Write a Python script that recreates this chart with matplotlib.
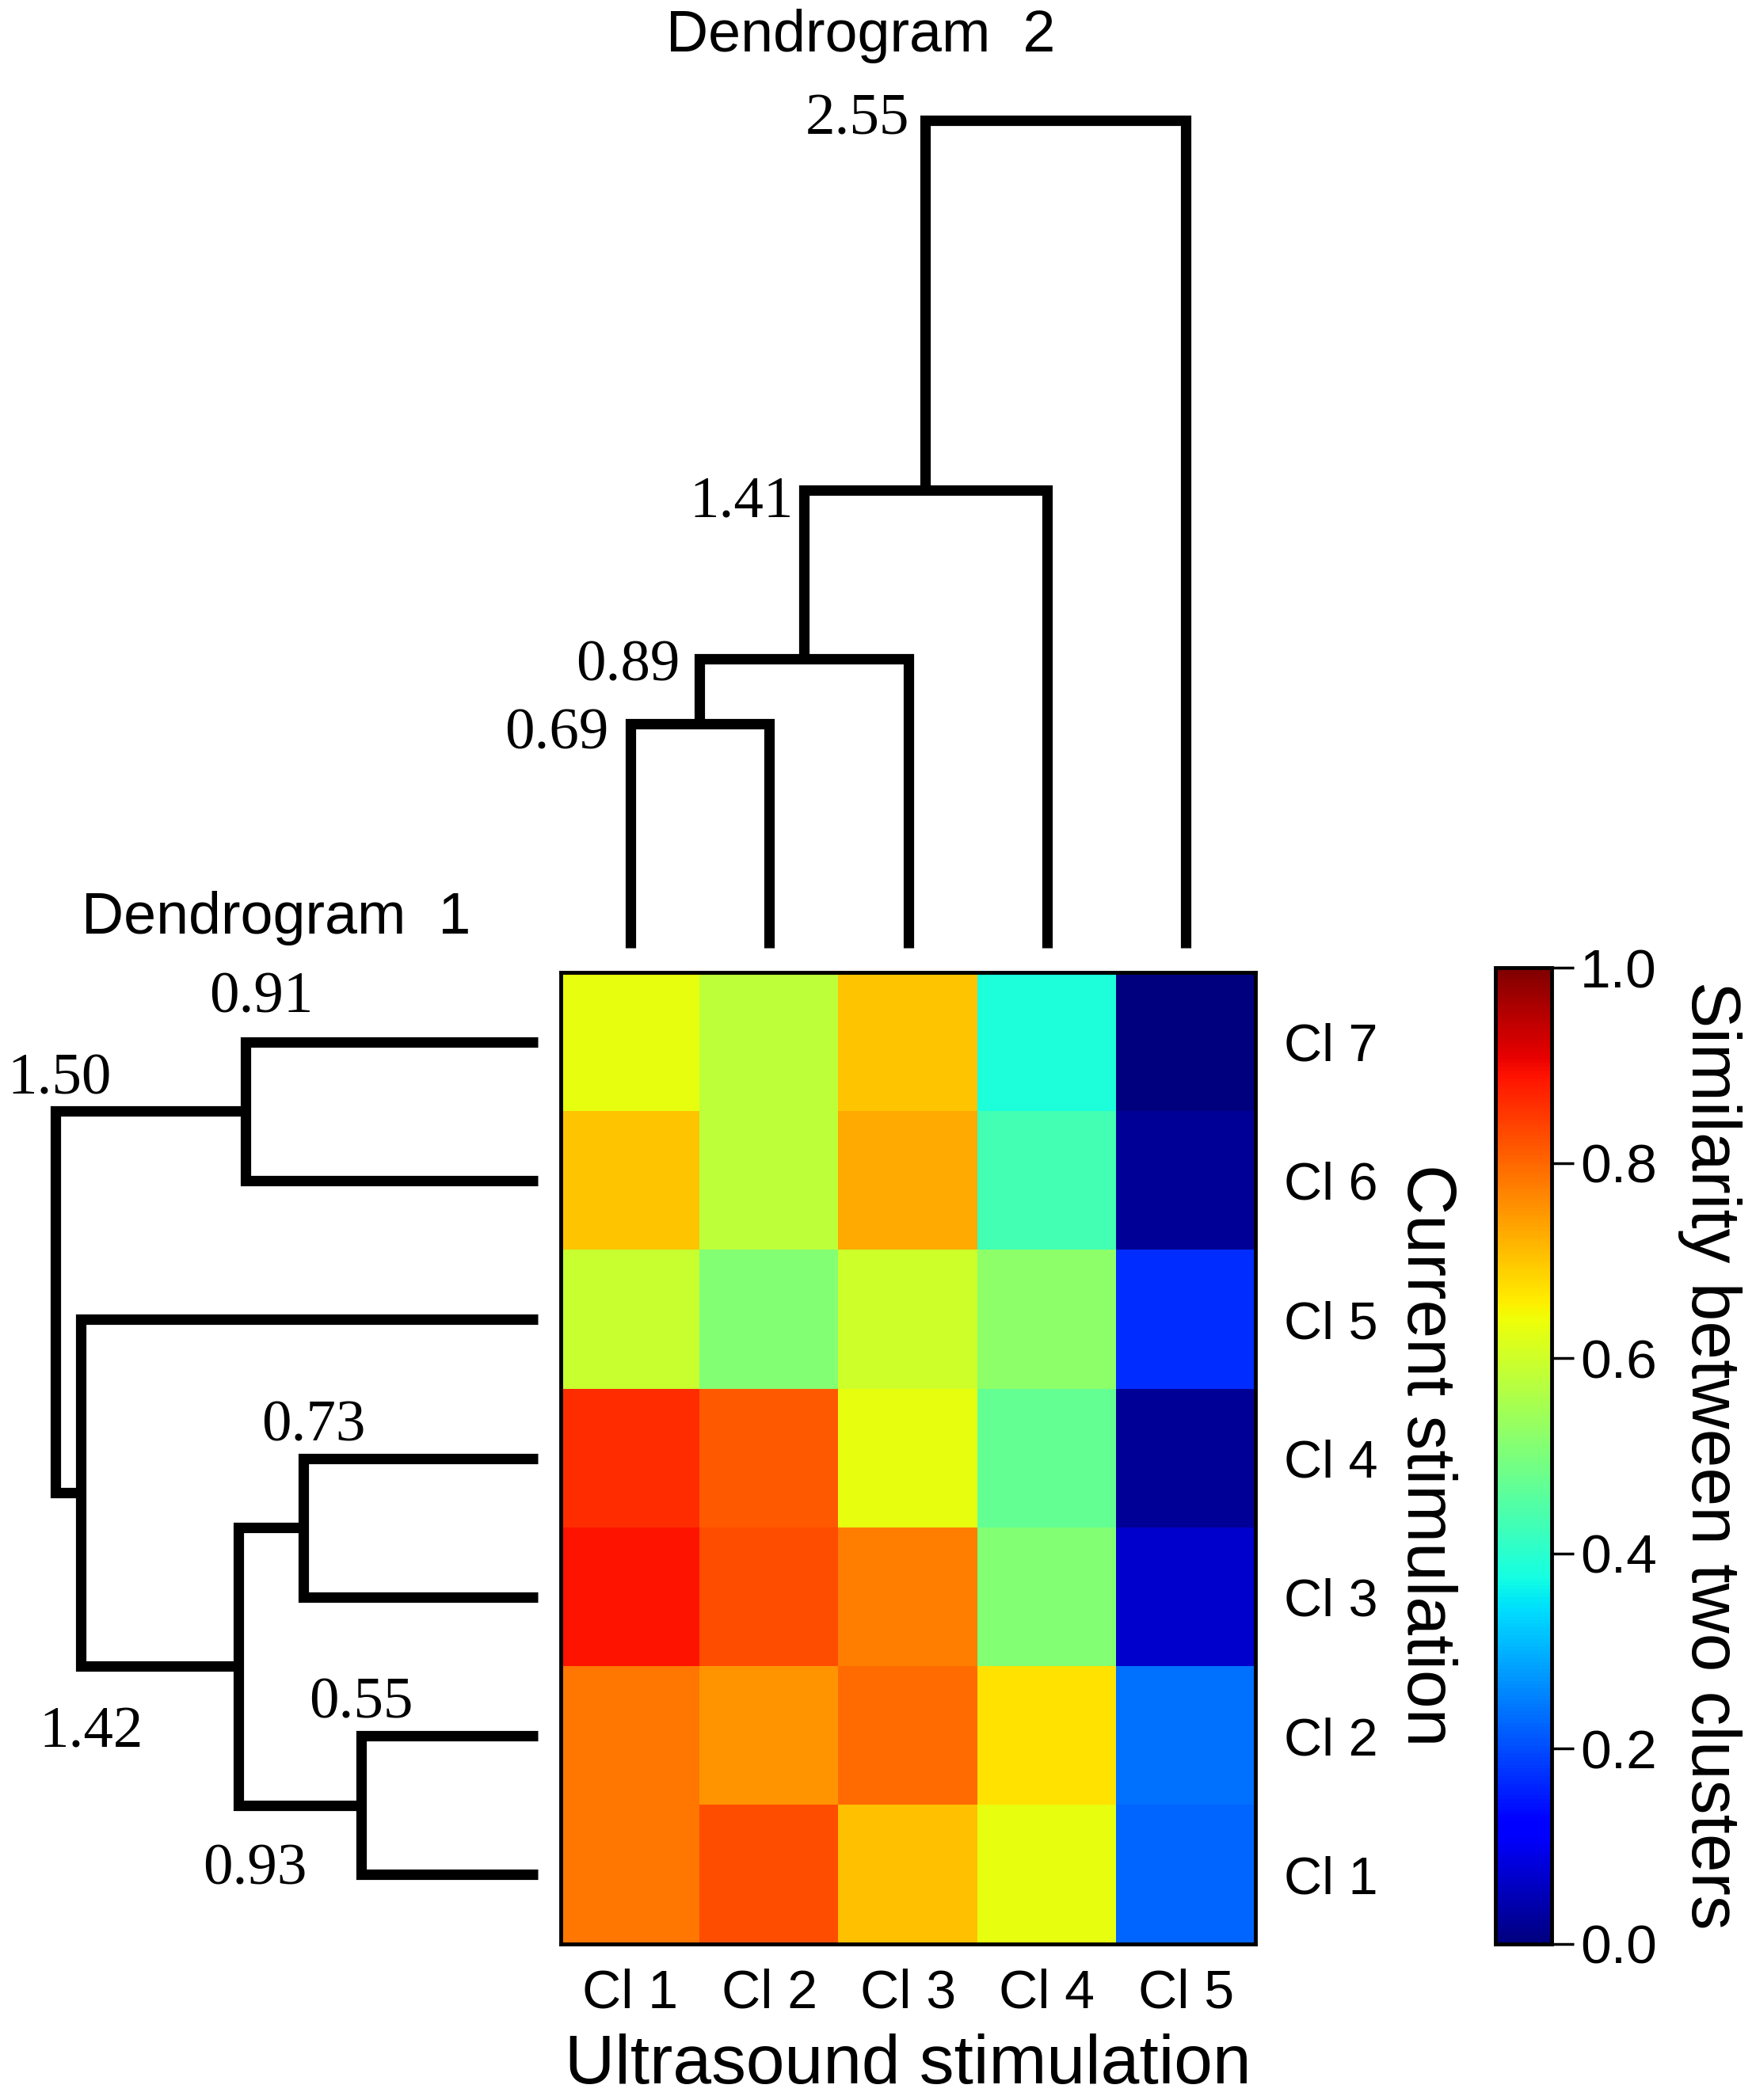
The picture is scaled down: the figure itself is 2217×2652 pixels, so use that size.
import matplotlib
matplotlib.use("Agg")
import matplotlib.pyplot as plt
import numpy as np

# ---------------- data ----------------
row_labels = ["Cl 7", "Cl 6", "Cl 5", "Cl 4", "Cl 3", "Cl 2", "Cl 1"]   # current stimulation (top->bottom)
col_labels = ["Cl 1", "Cl 2", "Cl 3", "Cl 4", "Cl 5"]                   # ultrasound stimulation

sim_cl7 = [0.63, 0.58, 0.70, 0.385, 0.00]
sim_cl6 = [0.70, 0.58, 0.73, 0.43, 0.02]
sim_cl5 = [0.59, 0.51, 0.60, 0.52, 0.17]
sim_cl4 = [0.86, 0.815, 0.63, 0.47, 0.02]
sim_cl3 = [0.89, 0.825, 0.775, 0.51, 0.07]
sim_cl2 = [0.785, 0.75, 0.795, 0.67, 0.235]
sim_cl1 = [0.785, 0.825, 0.705, 0.63, 0.225]

# dendrogram 2 (ultrasound clusters, leaves Cl1..Cl5 -> ids 0..4)
dendro2_merges = [(0, 1), (5, 2), (6, 3), (7, 4)]
dendro2_heights = [0.69, 0.89, 1.41, 2.55]

# dendrogram 1 (current clusters, leaves in row order Cl7..Cl1 -> ids 0..6)
dendro1_merges = [(0, 1), (3, 4), (5, 6), (8, 9), (2, 10), (7, 11)]
dendro1_heights = [0.91, 0.73, 0.55, 0.93, 1.42, 1.50]

cbar_ticks = [0.0, 0.2, 0.4, 0.6, 0.8, 1.0]

# ---------------- layout ----------------
W, H = 2217, 2652
DPI = 100
fig = plt.figure(figsize=(W / DPI, H / DPI), dpi=DPI)
fig.patch.set_facecolor("white")

def rect(l, t, r, b):
    return [l / W, 1 - b / H, (r - l) / W, (b - t) / H]

SERIF = ["Liberation Serif", "DejaVu Serif"]
SANS = ["Liberation Sans", "DejaVu Sans"]
LW = 9.5
PX = 0.72  # points per pixel at 100 dpi

data = np.array([sim_cl7, sim_cl6, sim_cl5, sim_cl4, sim_cl3, sim_cl2, sim_cl1])
nrow, ncol = data.shape

# heatmap
ax = fig.add_axes(rect(708, 1228, 1585, 2455))
im = ax.imshow(data, cmap="jet", vmin=0, vmax=1, aspect="auto",
               extent=(0, ncol, nrow, 0), interpolation="nearest")
ax.set_xlim(0, ncol)
ax.set_ylim(nrow, 0)
ax.set_xticks(np.arange(ncol) + 0.5)
ax.set_xticklabels(col_labels, fontsize=49, family=SANS)
ax.set_yticks(np.arange(nrow) + 0.5)
ax.set_yticklabels(row_labels, fontsize=48, family=SANS)
ax.yaxis.tick_right()
ax.tick_params(axis="both", length=0)
ax.tick_params(axis="x", pad=22)
ax.tick_params(axis="y", pad=26)
for s in ax.spines.values():
    s.set_linewidth(3.5)
    s.set_color("black")

# top dendrogram
axt = fig.add_axes(rect(708, 8, 1585, 1197))
axt.set_xlim(0, ncol)
axt.set_ylim(0, 1189 / 410)
axt.axis("off")
top_gap = [27, 25, 13, 20]
top_dy = [14, 10, 16, 0]
pos = {i: i + 0.5 for i in range(ncol)}
hgt = {i: 0.0 for i in range(ncol)}
nid = ncol
for k, ((a, b), h) in enumerate(zip(dendro2_merges, dendro2_heights)):
    axt.plot([pos[a], pos[a], pos[b], pos[b]], [hgt[a], h, h, hgt[b]],
             color="black", lw=LW, solid_joinstyle="miter", solid_capstyle="butt",
             clip_on=False)
    left = min(pos[a], pos[b])
    axt.annotate(f"{h:.2f}", (left, h), xytext=(-top_gap[k] * PX, -top_dy[k] * PX),
                 textcoords="offset points", ha="right", va="center",
                 fontsize=54, family=SERIF)
    pos[nid] = (pos[a] + pos[b]) / 2
    hgt[nid] = h
    nid += 1

# left dendrogram
axl = fig.add_axes(rect(0, 1228, 679, 2455))
axl.set_xlim(679 / 406, 0)
axl.set_ylim(nrow, 0)
axl.axis("off")
label_side = ["above", "above", "above", "below", "below", "above"]
label_dx = [20, 13, 0, 20, 13, 5]
label_dy = [55, 40, 40, 82, 84, 40]
pos = {i: i + 0.5 for i in range(nrow)}
hgt = {i: 0.0 for i in range(nrow)}
nid = nrow
for k, ((a, b), h) in enumerate(zip(dendro1_merges, dendro1_heights)):
    axl.plot([hgt[a], h, h, hgt[b]], [pos[a], pos[a], pos[b], pos[b]],
             color="black", lw=LW, solid_joinstyle="miter", solid_capstyle="butt",
             clip_on=False)
    if label_side[k] == "above":
        yy = min(pos[a], pos[b]); dy = label_dy[k]
    else:
        yy = max(pos[a], pos[b]); dy = -label_dy[k]
    axl.annotate(f"{h:.2f}", (h, yy), xytext=(label_dx[k] * PX, dy * PX),
                 textcoords="offset points", ha="center", va="center",
                 fontsize=54, family=SERIF)
    pos[nid] = (pos[a] + pos[b]) / 2
    hgt[nid] = h
    nid += 1

# colorbar
cax = fig.add_axes(rect(1888, 1222, 1959, 2455))
cb = fig.colorbar(im, cax=cax, ticks=cbar_ticks)
cb.ax.set_yticklabels([f"{t:.1f}" for t in cbar_ticks], fontsize=50, family=SANS)
cb.ax.tick_params(length=20, width=2.5, pad=6)
cb.outline.set_linewidth(3.5)

# titles and axis labels
fig.text(1087 / W, 1 - 46 / H, "Dendrogram  2", fontsize=53, family=SANS,
         ha="center", va="center")
fig.text(349 / W, 1 - 1160 / H, "Dendrogram  1", fontsize=53, family=SANS,
         ha="center", va="center")
fig.text(1146 / W, 1 - 2608 / H, "Ultrasound stimulation", fontsize=63, family=SANS,
         ha="center", va="center")
fig.text(1800 / W, 1 - 1838 / H, "Current stimulation", fontsize=63, family=SANS,
         ha="center", va="center", rotation=270)
fig.text(2158 / W, 1 - 1838 / H, "Similarity between two clusters", fontsize=63,
         family=SANS, ha="center", va="center", rotation=270)

fig.savefig("out.png", dpi=DPI, facecolor="white")
